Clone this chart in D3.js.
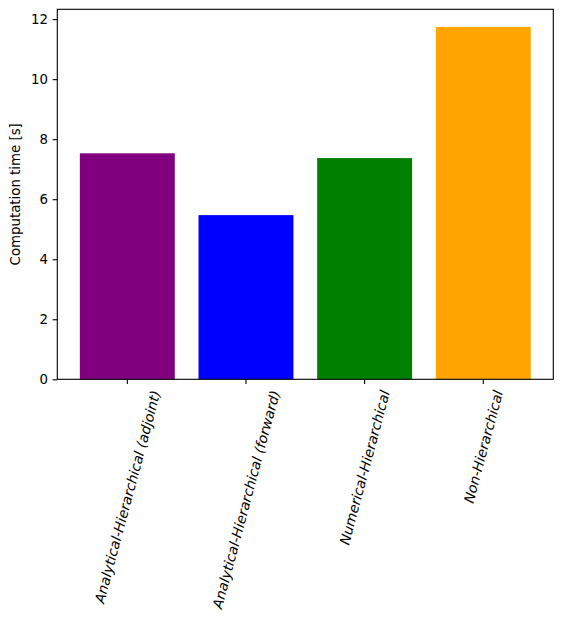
<!DOCTYPE html>
<html>
<head>
<meta charset="utf-8">
<script src="https://cdn.jsdelivr.net/npm/d3@7"></script>
<style>
  body { margin: 0; background: #fff; }
  text { font-family: "DejaVu Sans", sans-serif; }
</style>
</head>
<body>
<div id="chart"></div>
<script>
// Data
const methods = ['Analytical-Hierarchical (adjoint)', 'Analytical-Hierarchical (forward)', 'Numerical-Hierarchical', 'Non-Hierarchical']
const times = [7.53, 5.47, 7.37, 11.74]
const barColors = ['purple', 'blue', 'green', 'orange']
const yTickValues = [0, 2, 4, 6, 8, 10, 12]

// Plot area
const width = 562
const height = 620
const margin = { left: 57.3, right: 8.7, top: 9.3, bottom: 240.7 }
const plotW = width - margin.left - margin.right
const plotH = height - margin.top - margin.bottom

const svg = d3.select('#chart').append('svg')
  .attr('width', width)
  .attr('height', height)

const g = svg.append('g')
  .attr('transform', `translate(${margin.left},${margin.top})`)

// Scales
const xScale = d3.scaleLinear()
  .domain([-0.59, methods.length - 1 + 0.59])
  .range([0, plotW])

const yScale = d3.scaleLinear()
  .domain([0, d3.max(times) * 1.05])
  .range([plotH, 0])

const barW = xScale(0.8) - xScale(0)

// Bars
g.selectAll('.bar')
  .data(times)
  .join('rect')
  .attr('class', 'bar')
  .attr('x', (d, i) => xScale(i) - barW / 2)
  .attr('y', d => yScale(d))
  .attr('width', barW)
  .attr('height', d => yScale(0) - yScale(d))
  .attr('fill', (d, i) => barColors[i])

// Axes
const yAxis = d3.axisLeft(yScale)
  .tickValues(yTickValues)
  .tickFormat(d3.format('d'))
  .tickSize(4.67)
  .tickPadding(4.67)
  .tickSizeOuter(0)

const yAxisG = g.append('g').call(yAxis)
yAxisG.select('.domain').remove()
yAxisG.selectAll('text').style('font-size', '13.33px').attr('fill', '#000')
yAxisG.selectAll('line').attr('stroke', '#000').attr('stroke-width', 1.1)

const xAxisG = g.append('g')
  .attr('transform', `translate(0,${plotH})`)

methods.forEach((m, i) => {
  const tx = xScale(i)
  xAxisG.append('line')
    .attr('x1', tx).attr('x2', tx)
    .attr('y1', 0).attr('y2', 4.67)
    .attr('stroke', '#000')
    .attr('stroke-width', 1.1)

  const label = xAxisG.append('text')
    .attr('transform', 'rotate(-75)')
    .attr('text-anchor', 'end')
    .attr('dy', '0.35em')
    .style('font-size', '13.9px')
    .style('font-style', 'italic')
    .attr('fill', '#000')
    .text(m)

  // centre rotated bbox on tick (matplotlib ha='center')
  const bb = label.node().getBBox()
  const a = -75 * Math.PI / 180
  const corners = [[bb.x, bb.y], [bb.x + bb.width, bb.y], [bb.x, bb.y + bb.height], [bb.x + bb.width, bb.y + bb.height]]
    .map(([px, py]) => [px * Math.cos(a) - py * Math.sin(a), px * Math.sin(a) + py * Math.cos(a)])
  const minX = d3.min(corners, c => c[0])
  const maxX = d3.max(corners, c => c[0])
  const minY = d3.min(corners, c => c[1])
  const dx = tx - (minX + maxX) / 2
  const dy = 4.67 + 4.67 - minY
  label.attr('transform', `translate(${dx},${dy}) rotate(-75)`)
})

// Frame
g.append('rect')
  .attr('width', plotW)
  .attr('height', plotH)
  .attr('fill', 'none')
  .attr('stroke', '#000')
  .attr('stroke-width', 1.1)

// Y label
svg.append('text')
  .attr('transform', `translate(20,${margin.top + plotH / 2}) rotate(-90)`)
  .attr('text-anchor', 'middle')
  .style('font-size', '13.33px')
  .attr('fill', '#000')
  .text('Computation time [s]')
</script>
</body>
</html>
